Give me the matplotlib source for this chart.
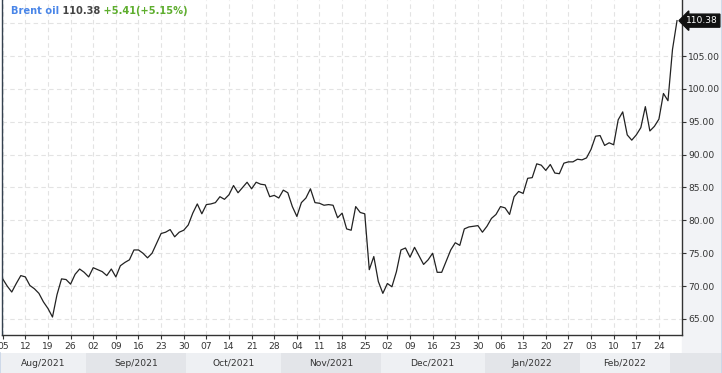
import pandas as pd
import matplotlib
matplotlib.use("Agg")
import matplotlib.pyplot as plt
import matplotlib.transforms as mtransforms
from matplotlib.patches import Rectangle
from matplotlib.lines import Line2D

# Brent oil daily closes, one value per trading day starting Thu 5 Aug 2021
price = [
    71.1, 70.0, 69.1, 70.4, 71.6, 71.4, 70.1, 69.6, 68.9, 67.6,
    66.6, 65.3, 68.7, 71.1, 71.0, 70.3, 71.8, 72.6, 72.1, 71.4,
    72.8, 72.5, 72.2, 71.6, 72.6, 71.4, 73.1, 73.6, 74.0, 75.5,
    75.5, 75.0, 74.3, 75.0, 76.5, 78.0, 78.2, 78.6, 77.5, 78.2,
    78.5, 79.3, 81.1, 82.5, 81.0, 82.4, 82.5, 82.7, 83.6, 83.2,
    83.9, 85.3, 84.2, 85.0, 85.8, 84.8, 85.8, 85.5, 85.4, 83.6,
    83.8, 83.4, 84.6, 84.2, 82.1, 80.6, 82.7, 83.4, 84.8, 82.7,
    82.6, 82.3, 82.4, 82.3, 80.4, 81.1, 78.7, 78.5, 82.1, 81.2,
    81.0, 72.5, 74.5, 70.7, 68.9, 70.4, 69.9, 72.2, 75.5, 75.8,
    74.4, 75.9, 74.6, 73.3, 74.0, 75.0, 72.1, 72.1, 73.8, 75.5,
    76.6, 76.2, 78.7, 79.0, 79.1, 79.2, 78.2, 79.1, 80.3, 80.9,
    82.1, 81.9, 80.9, 83.6, 84.4, 84.1, 86.4, 86.5, 88.6, 88.4,
    87.6, 88.5, 87.2, 87.1, 88.7, 88.9, 88.9, 89.3, 89.2, 89.5,
    90.8, 92.8, 92.9, 91.4, 91.8, 91.5, 95.3, 96.5, 93.0, 92.2,
    93.0, 94.1, 97.3, 93.6, 94.3, 95.4, 99.3, 98.2, 106.0, 110.38,
]
dates = pd.bdate_range("2021-08-05", periods=len(price))
yticks = [65, 70, 75, 80, 85, 90, 95, 100, 105, 110]
last_price = "110.38"
change = "+5.41(+5.15%)"

W, H = 722, 373
FS = 6.6
fig = plt.figure(figsize=(W / 100, H / 100), dpi=100)
fig.patch.set_facecolor("white")

# grey strip behind the price scale
fig.patches.append(Rectangle((682 / W, 1 - 353 / H), 40 / W, 353 / H,
                             transform=fig.transFigure, color="#f2f3f6", zorder=-5))

ax = fig.add_axes([2 / W, 1 - 334.5 / H, 680 / W, 334.5 / H])
x = list(range(len(price)))
ax.plot(x, price, color="#222222", lw=0.9)

x0, x1 = -0.155, 150.1
ax.set_xlim(x0, x1)
ax.set_ylim(62.64, 113.52)

ax.set_yticks(yticks)
# the 110 label sits under the last price tag
ax.set_yticklabels([f"{v:.2f}" if v < 110 else "" for v in yticks])
ax.yaxis.tick_right()
week = x[::5]
ax.set_xticks(week)
ax.set_xticklabels([d.strftime("%d") for d in dates[::5]])
ax.tick_params(axis="both", colors="#333333", labelsize=FS, length=3, width=0.8,
               direction="out", pad=2.5)
ax.tick_params(axis="y", pad=1.5)
ax.grid(True, color="#e3e3e3", lw=0.8, linestyle=(0, (4, 3)))
ax.set_axisbelow(True)
ax.spines["top"].set_visible(False)
ax.spines["left"].set_color("#34414f")
ax.spines["right"].set_color("#333333")
ax.spines["bottom"].set_color("#333333")
for s in ax.spines.values():
    s.set_linewidth(1.0)

# last price tag on the scale
tr = mtransforms.blended_transform_factory(ax.transAxes, ax.transData)
ax.text(1.006, price[-1], last_price, transform=tr, ha="left", va="center",
        color="white", fontsize=FS, clip_on=False, zorder=10,
        bbox=dict(boxstyle="larrow,pad=0.22", fc="#111111", ec="#111111"))

# month bands under the axis
bax = fig.add_axes([0, 0, 1, 20 / H])
scale = (x1 - x0) / 680
bl, br = x0 - 2 * scale, x1 + 40 * scale
bax.set_xlim(bl, br)
bax.set_ylim(0, 1)
bax.axis("off")
months = pd.Series(x, index=dates).groupby(dates.to_period("M"))
light, dark = "#eef0f3", "#e3e5e9"
for i, (per, idx) in enumerate(months):
    a, b = idx.iloc[0] - 0.5, idx.iloc[-1] + 0.5
    if i == 0:
        a = bl
    if b > x1 or i == len(months) - 1:
        b = x1
    if a >= x1:
        continue
    bax.axvspan(a, b, color=light if i % 2 == 0 else dark, lw=0)
    if idx.iloc[-1] - idx.iloc[0] > 5:
        bax.text((idx.iloc[0] + idx.iloc[-1]) / 2, 0.5, per.strftime("%b/%Y"),
                 ha="center", va="center", fontsize=FS, color="#333333")
bax.axvspan(x1, br, color=dark, lw=0)

# thin widget border
fig.lines.append(Line2D([721.5 / W, 721.5 / W], [0, 1], transform=fig.transFigure,
                        color="#c8d5e8", lw=1.2))
fig.lines.append(Line2D([0.3 / W, 0.3 / W], [0, 20 / H], transform=fig.transFigure,
                        color="#c8d5e8", lw=1.2))

# title
t1 = fig.text(11 / W, 1 - 11 / H, "Brent oil", color="#4a86e8", fontsize=7.1,
              weight="bold", va="center")
t2 = ax.annotate(" " + last_price, xycoords=t1, xy=(1, 0), va="bottom",
                 color="#444444", fontsize=7.1, weight="bold")
ax.annotate(" " + change, xycoords=t2, xy=(1, 0), va="bottom",
            color="#5eae2e", fontsize=7.1, weight="bold")

fig.savefig("out.png", dpi=100)
